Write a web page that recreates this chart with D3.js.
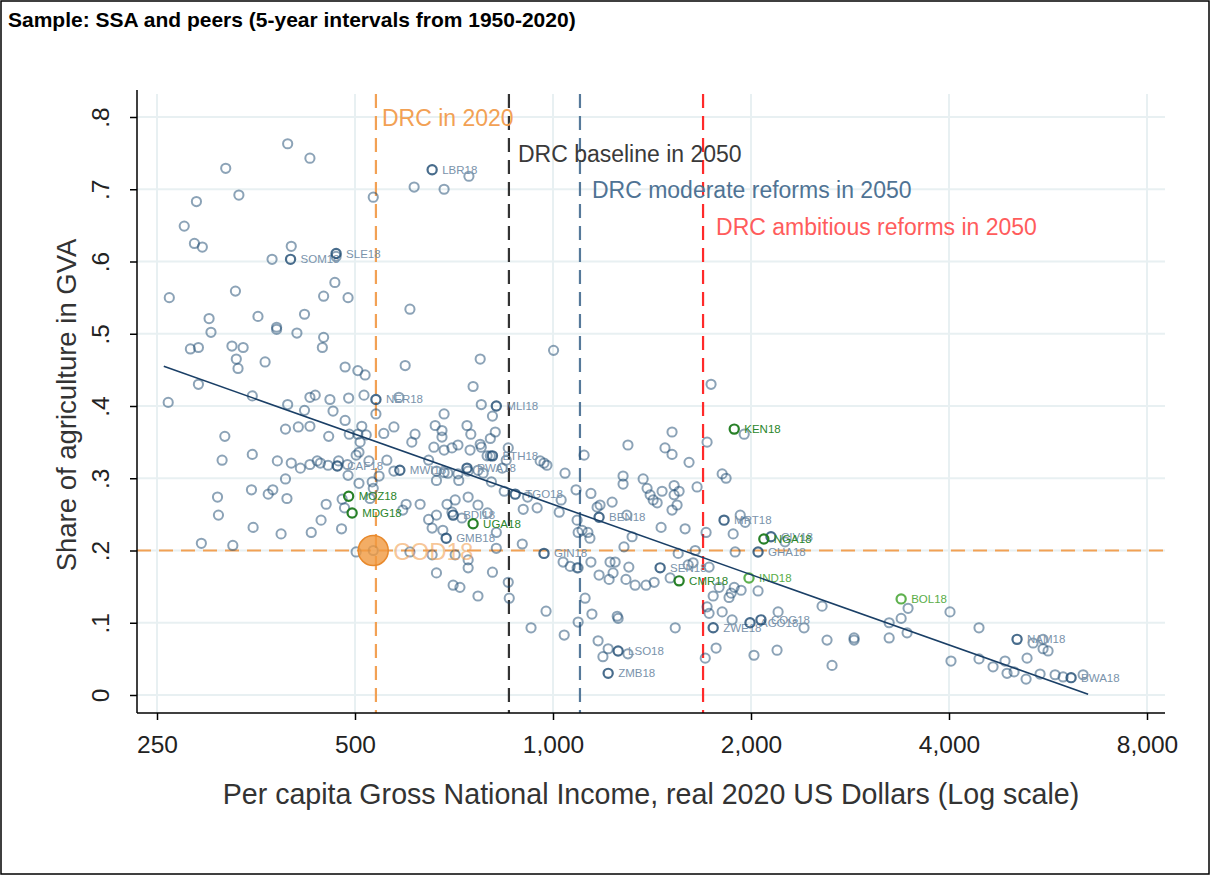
<!DOCTYPE html>
<html>
<head>
<meta charset="utf-8">
<script src="https://cdn.jsdelivr.net/npm/d3@7"></script>
<style>
  body { margin: 0; background: #fff; }
  svg { font-family: "Liberation Sans", Arial, sans-serif; }
</style>
</head>
<body>
<div id="chart"></div>
<script>
// ---- data ----
// per capita GNI (2020 USD) and agriculture share of GVA, peer observations
const peers = [
  [395,.763],[427,.743],[318,.729],[333,.692],[287,.683],[533,.689],[275,.649],[285,.625],[293,.620],[400,.621],
  [374,.603],[466,.571],[261,.550],[329,.559],[448,.552],[488,.550],[468,.607],
  [745,.718],[615,.703],[683,.700],
  [300,.521],[356,.524],[419,.527],[302,.502],[380,.509],[380,.506],[408,.501],[448,.495],[446,.481],[281,.479],
  [289,.481],[325,.483],[338,.481],[330,.465],[332,.452],[365,.461],[483,.454],[505,.449],[518,.443],[289,.430],
  [260,.405],[349,.414],[395,.402],[427,.412],[435,.415],[458,.409],[489,.411],[516,.415],[583,.412],
  [419,.394],[463,.393],[538,.389],[483,.380],[392,.368],[410,.371],[427,.372],[512,.372],[490,.361],[505,.361],
  [520,.360],[456,.358],[553,.362],[573,.371],[317,.358],[509,.350],[314,.325],[349,.333],[381,.324],[400,.321],
  [413,.314],[427,.319],[438,.324],[443,.321],[455,.318],[488,.304],[472,.324],[487,.319],[502,.332],[507,.336],
  [525,.324],[559,.325],[544,.303],[573,.310],[392,.299],[507,.293],[531,.295],[533,.286],[309,.274],[348,.284],
  [369,.278],[375,.284],[394,.272],[452,.264],[478,.271],[527,.272],
  [310,.249],[350,.232],[386,.223],[429,.225],[444,.242],[477,.230],[482,.259],[292,.210],[326,.207],[502,.198],
  [606,.534],[1002,.477],[775,.465],[596,.456],[756,.427],[778,.402],[809,.386],[683,.389],[662,.373],[740,.373],
  [617,.361],[678,.366],[678,.357],[750,.361],[817,.364],[803,.355],[610,.350],[659,.343],[683,.339],[702,.342],
  [717,.346],[748,.339],[775,.347],[778,.343],[855,.342],[794,.331],[803,.331],[849,.325],[956,.324],[969,.321],
  [979,.318],[1115,.332],[1300,.346],[1480,.342],[1043,.307],[647,.325],[665,.310],[683,.308],[665,.297],[692,.307],
  [719,.297],[717,.306],[743,.310],[769,.311],[783,.307],[806,.295],[837,.314],[843,.282],[915,.274],[1084,.284],
  [1142,.279],[1278,.303],[1278,.292],[1371,.299],[1390,.286],[1405,.277],[1420,.270],[1440,.266],[1465,.282],
  [598,.264],[628,.264],[690,.264],[710,.270],[743,.274],[769,.263],[1029,.270],[946,.259],[1179,.263],[1230,.267],
  [1167,.260],
  [727,.245],[702,.253],[591,.256],[647,.243],[665,.249],[655,.231],[680,.228],[795,.252],[820,.225],[820,.203],
  [898,.209],[901,.257],[1022,.253],[606,.198],[655,.194],[710,.194],[743,.187],[665,.169],[743,.176],[809,.170],
  [705,.152],[722,.149],[769,.137],[855,.156],[858,.134],[976,.116],[926,.093],[1040,.083],[1092,.101],[1119,.134],
  [1146,.112],[1252,.109],[1256,.106],[1088,.242],[1092,.225],[1107,.228],[1130,.225],[1138,.217],[1036,.184],
  [1062,.178],[1088,.176],[1092,.176],[1142,.184],[1175,.166],[1217,.160],[1221,.184],[1243,.184],[1234,.169],
  [1291,.160],[1333,.152],[1385,.152],[1425,.156],[1304,.177],[1282,.205],[1319,.219],[1295,.249],[1460,.232],
  [1171,.075],[1213,.064],[1191,.053],[1300,.057],
  [1517,.256],[1544,.263],[1588,.230],[1709,.225],[1926,.249],[1960,.239],[1879,.223],[2253,.212],[1892,.198],
  [1645,.200],[1550,.196],[1605,.180],[1633,.183],[1727,.177],[1507,.162],[1752,.137],[1789,.149],[1852,.135],
  [1866,.141],[1932,.145],[2050,.144],[1886,.149],[1715,.122],[1727,.113],[1808,.115],[1872,.104],[2199,.115],
  [2408,.093],[2565,.123],[1534,.093],[1770,.065],[1704,.051],[2021,.055],[2191,.062],[2610,.076],[2656,.041],
  [2869,.079],[2869,.076],[3244,.100],[3383,.106],[3466,.120],[3244,.079],[3454,.086],
  [4014,.115],[4443,.093],[5560,.077],[5369,.072],[5560,.064],[5658,.061],[5257,.051],[4028,.047],[4443,.050],
  [4667,.039],[4867,.047],[4901,.030],[5023,.032],[5239,.022],[5502,.029],[5799,.028],[5964,.025],[6397,.028],
  [1739,.430],[1953,.361],[1517,.364],[1715,.350],[1517,.333],[1610,.322],[1808,.306],[1833,.300],[1528,.290],
  [1555,.282],[1528,.277],[1656,.288]
];

// labelled 2018 observations
const tagCodes = ["SOM18","SLE18","LBR18","NER18","MLI18","ETH18","MWI18","RWA18","TGO18","CAF18",
  "MOZ18","MDG18","BDI18","UGA18","GMB18","GIN18","BEN18","SEN18","LSO18","ZMB18",
  "KEN18","MRT18","CIV18","NGA18","GHA18","IND18","CMR18","ZWE18","AGO18","COG18",
  "BOL18","NAM18","BWA18"];
const tagGni = [399,468,655,538,820,809,585,740,876,470,
  489,495,705,756,688,969,1175,1455,1256,1213,
  1886,1820,2145,2092,2050,1986,1555,1752,1993,2071,
  3383,5076,6133];
const tagShare = [.603,.611,.727,.409,.400,.331,.311,.314,.278,.317,
  .275,.252,.249,.237,.217,.196,.246,.176,.061,.030,
  .368,.242,.219,.216,.198,.162,.158,.093,.100,.104,
  .133,.077,.024];
const ssaHighlight = ["MOZ18","MDG18","UGA18","KEN18","NGA18","CMR18"];
const otherPeers = ["IND18","BOL18"];

// DRC
const codCode = "COD18";
const codGni = 533;
const codShare = 0.200;
const refNames = ["DRC in 2020","DRC baseline in 2050","DRC moderate reforms in 2050","DRC ambitious reforms in 2050"];
const refGni = [538, 857, 1099, 1691];
const refShare = 0.2;

// fitted line end points
const fitGni = [256, 6510];
const fitShare = [0.455, 0.001];

// ticks
const xTicks = [250, 500, 1000, 2000, 4000, 8000];
const yTicks = [0, .1, .2, .3, .4, .5, .6, .7, .8];

// ---- layout ----
const W = 1211, H = 876;
const margin = {top: 94, right: 46, bottom: 163, left: 137};
const width = W - margin.left - margin.right;
const height = H - margin.top - margin.bottom;

const refColors = ["#f2a154", "#333333", "#56799a", "#ff2a2a"];
const refTextColors = ["#f2a154", "#3a3a3a", "#4f7394", "#ff5c5c"];
const refDx = [6, 9, 12, 13];
const refRowY = [32, 68, 104, 141];

const root = d3.select("#chart")
  .append("svg")
    .attr("width", W)
    .attr("height", H);

root.append("rect")
    .attr("x", 1).attr("y", 1)
    .attr("width", W - 3).attr("height", H - 3)
    .attr("fill", "#fff")
    .attr("stroke", "#000")
    .attr("stroke-width", 1.5);

root.append("text")
    .attr("x", 8)
    .attr("y", 27)
    .attr("font-weight", "bold")
    .attr("font-size", 21)
    .attr("fill", "#000")
  .text("Sample: SSA and peers (5-year intervals from 1950-2020)");

const svg = root.append("g")
    .attr("transform", `translate(${margin.left}, ${margin.top})`);

// scales
const xScale = d3.scaleLog()
    .domain([250, 8000])
    .range([20, 1010]);
const yScale = d3.scaleLinear()
    .domain([0, 0.8])
    .range([601, 23]);

// grid
svg.append("g")
  .selectAll("line")
  .data(yTicks)
  .join("line")
    .attr("x1", 0).attr("x2", width)
    .attr("y1", d => yScale(d)).attr("y2", d => yScale(d))
    .attr("stroke", "#e8f0f2")
    .attr("stroke-width", 2);
svg.append("g")
  .selectAll("line")
  .data(xTicks)
  .join("line")
    .attr("x1", d => xScale(d)).attr("x2", d => xScale(d))
    .attr("y1", 0).attr("y2", height)
    .attr("stroke", "#e8f0f2")
    .attr("stroke-width", 2);

// reference lines
const dash = "14,8";
svg.append("line")
    .attr("x1", 0).attr("x2", width)
    .attr("y1", yScale(refShare)).attr("y2", yScale(refShare))
    .attr("stroke", refColors[0])
    .attr("stroke-width", 2.2)
    .attr("stroke-dasharray", dash);
svg.append("g")
  .selectAll("line")
  .data(refGni)
  .join("line")
    .attr("x1", d => xScale(d)).attr("x2", d => xScale(d))
    .attr("y1", 0).attr("y2", height)
    .attr("stroke", (d, i) => refColors[i])
    .attr("stroke-width", 2.2)
    .attr("stroke-dasharray", dash);

// axes
const xAxis = svg.append("g")
    .attr("transform", `translate(0, ${height})`)
    .call(d3.axisBottom(xScale).tickValues(xTicks).tickFormat(d3.format(",")).tickSize(7).tickPadding(16))
    .attr("font-family", null)
    .attr("font-size", 24.5);
xAxis.select(".domain").remove();
xAxis.selectAll("line").attr("stroke", "#000").attr("stroke-width", 1.5);
xAxis.selectAll("text").attr("fill", "#222");

const yAxis = svg.append("g")
    .call(d3.axisLeft(yScale).tickValues(yTicks)
      .tickFormat(d => d === 0 ? "0" : d3.format(".1f")(d).replace(/^0/, ""))
      .tickSize(7))
    .attr("font-family", null)
    .attr("font-size", 24.5);
yAxis.select(".domain").remove();
yAxis.selectAll("line").attr("stroke", "#000").attr("stroke-width", 1.5);
yAxis.selectAll("text")
    .attr("transform", "rotate(-90)")
    .attr("x", 0)
    .attr("y", -28)
    .attr("dy", 0)
    .attr("text-anchor", "middle")
    .attr("fill", "#222");

svg.append("line")
    .attr("x1", 0).attr("x2", width)
    .attr("y1", height).attr("y2", height)
    .attr("stroke", "#000").attr("stroke-width", 1.5);
svg.append("line")
    .attr("x1", 0).attr("x2", 0)
    .attr("y1", -4).attr("y2", height)
    .attr("stroke", "#000").attr("stroke-width", 1.5);

// peer points
svg.append("g")
  .selectAll("circle")
  .data(peers)
  .join("circle")
    .attr("cx", d => xScale(d[0]))
    .attr("cy", d => yScale(d[1]))
    .attr("r", 4.6)
    .attr("fill", "none")
    .attr("stroke", "#1a476f")
    .attr("stroke-opacity", 0.5)
    .attr("stroke-width", 2);

// labelled points
const tagged = tagCodes.map((c, i) => ({code: c, gni: tagGni[i], share: tagShare[i],
  group: ssaHighlight.includes(c) ? 1 : otherPeers.includes(c) ? 2 : 0}))
  .sort((a, b) => a.group - b.group);
const markColor = ["#1a476f", "#1c7a1c", "#4ea83c"];
const markOpacity = [0.8, 0.95, 0.9];
const tagColor = ["#7a93ab", "#2b862b", "#5aad48"];

const tagGroup = svg.append("g")
  .selectAll("g")
  .data(tagged)
  .join("g");
tagGroup.append("circle")
    .attr("cx", d => xScale(d.gni))
    .attr("cy", d => yScale(d.share))
    .attr("r", 4.6)
    .attr("fill", "none")
    .attr("stroke", d => markColor[d.group])
    .attr("stroke-opacity", d => markOpacity[d.group])
    .attr("stroke-width", 2.2);

// fitted line
svg.append("path")
    .datum(fitGni.map((g, i) => [g, fitShare[i]]))
    .attr("d", d3.line().x(d => xScale(d[0])).y(d => yScale(d[1])))
    .attr("fill", "none")
    .attr("stroke", "#1a3f66")
    .attr("stroke-width", 1.6);

tagGroup.append("text")
    .attr("x", d => xScale(d.gni) + 10)
    .attr("y", d => yScale(d.share) + 4)
    .attr("font-size", 11.5)
    .attr("fill", d => tagColor[d.group])
  .text(d => d.code);

// DRC marker
svg.append("circle")
    .attr("cx", xScale(codGni)).attr("cy", yScale(codShare))
    .attr("r", 4.6)
    .attr("fill", "none")
    .attr("stroke", "#1a476f")
    .attr("stroke-opacity", 0.5)
    .attr("stroke-width", 2);
svg.append("circle")
    .attr("cx", xScale(codGni)).attr("cy", yScale(codShare))
    .attr("r", 15)
    .attr("fill", "#f0993f")
    .attr("fill-opacity", 0.8)
    .attr("stroke", "#e8892c")
    .attr("stroke-width", 1.5);
svg.append("text")
    .attr("x", xScale(codGni) + 20)
    .attr("y", yScale(codShare) + 9)
    .attr("font-size", 24)
    .attr("fill", "#f2a154")
    .attr("fill-opacity", 0.6)
  .text(codCode);

// reference labels
svg.append("g")
  .selectAll("text")
  .data(refNames)
  .join("text")
    .attr("x", (d, i) => xScale(refGni[i]) + refDx[i])
    .attr("y", (d, i) => refRowY[i])
    .attr("font-size", 23)
    .attr("fill", (d, i) => refTextColors[i])
  .text(d => d);

// axis titles
root.append("text")
    .attr("x", 651)
    .attr("y", 804)
    .attr("text-anchor", "middle")
    .attr("font-size", 28.6)
    .attr("fill", "#333")
  .text("Per capita Gross National Income, real 2020 US Dollars (Log scale)");
root.append("text")
    .attr("transform", "translate(76, 405) rotate(-90)")
    .attr("text-anchor", "middle")
    .attr("font-size", 27.5)
    .attr("fill", "#333")
  .text("Share of agriculture in GVA");
</script>
</body>
</html>
